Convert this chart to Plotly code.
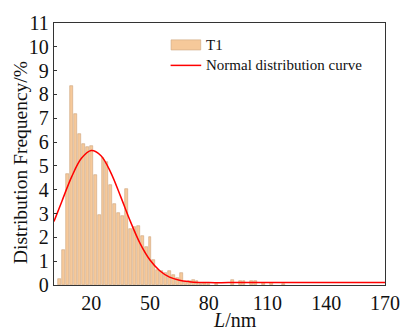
import plotly.graph_objects as go

# ---- data ----
bin_centers = [4, 6, 8, 10, 12, 14, 16, 18, 20, 22, 24, 26, 28, 30, 32, 34, 36, 38,
               40, 42, 44, 46, 48, 50, 52, 54, 56, 58, 60, 62, 64, 66, 68, 70, 72,
               74, 76, 78, 80, 84, 92, 96, 98, 102, 104, 108, 112, 118]
frequency = [0.25, 1.47, 4.65, 8.34, 7.17, 6.34, 5.92, 5.78, 5.85, 4.62, 2.96, 5.35,
             5.16, 4.20, 3.38, 3.04, 2.91, 4.02, 2.34, 2.43, 2.48, 2.07, 1.59, 2.01,
             1.06, 0.64, 0.60, 0.50, 0.57, 0.44, 0.30, 0.50, 0.12, 0.15, 0.20, 0.15,
             0.05, 0.08, 0.04, 0.04, 0.23, 0.16, 0.16, 0.16, 0.16, 0.10, 0.10, 0.06]

curve_x = [1, 5, 10, 15, 20, 25, 30, 35, 40, 45, 50, 55, 60, 65, 70, 75, 80, 90,
           100, 120, 140, 170]
curve_y = [2.67, 3.51, 4.54, 5.32, 5.65, 5.43, 4.72, 3.72, 2.67, 1.74, 1.05, 0.60,
           0.33, 0.20, 0.14, 0.11, 0.10, 0.10, 0.10, 0.10, 0.10, 0.10]

x_ticks = [20, 50, 80, 110, 140, 170]
y_ticks = list(range(0, 12))

series_names = ["T1", "Normal distribution curve"]

# ---- styling ----
W, H = 412, 333
L, R, T, B = 54, 23, 13, 48
BAR_FILL = "rgb(246,201,154)"
BAR_EDGE = "rgb(205,165,125)"
FONT = "Liberation Serif, Times New Roman, serif"


def px(x):
    return (x - L) / (W - L - R)


def py(y):
    return (H - B - y) / (H - T - B)


fig = go.Figure()
fig.add_trace(go.Bar(
    x=bin_centers, y=frequency, width=1.5, name=series_names[0],
    marker=dict(color=BAR_FILL, line=dict(color=BAR_EDGE, width=0.6)),
    showlegend=False,
))
fig.add_trace(go.Scatter(
    x=curve_x, y=curve_y, mode="lines", line=dict(color="#ff0000", width=1.5, shape="spline"),
    name=series_names[1], showlegend=False,
))

axis_common = dict(
    showgrid=False, zeroline=False, showline=True, linecolor="#333333", linewidth=1.3,
    mirror=True, tickfont=dict(family=FONT, size=20, color="#111111"),
)
fig.update_xaxes(range=[1, 170], tickvals=x_ticks, ticks="", **axis_common)
fig.update_yaxes(range=[0, 11], tickvals=y_ticks, ticks="inside", ticklen=3,
                 tickcolor="#333333", tickwidth=1.2, **axis_common)

# custom legend
fig.add_shape(type="rect", xref="paper", yref="paper",
              x0=px(172.5), x1=px(202.5), y0=py(41), y1=py(30.5),
              fillcolor=BAR_FILL, line=dict(color=BAR_EDGE, width=0.6))
fig.add_shape(type="line", xref="paper", yref="paper",
              x0=px(172), x1=px(203), y0=py(57), y1=py(57),
              line=dict(color="#ff0000", width=1.5))
fig.add_annotation(text=series_names[0], xref="paper", yref="paper", x=px(206), y=py(36),
                   xanchor="left", yanchor="middle", showarrow=False,
                   font=dict(family=FONT, size=15, color="#111111"))
fig.add_annotation(text=series_names[1], xref="paper", yref="paper", x=px(206), y=py(56.5),
                   xanchor="left", yanchor="middle", showarrow=False,
                   font=dict(family=FONT, size=15, color="#111111"))

# axis titles
fig.add_annotation(text="<i>L</i>/nm", xref="paper", yref="paper", x=px(237), y=py(321),
                   xanchor="center", yanchor="middle", showarrow=False,
                   font=dict(family=FONT, size=20, color="#111111"))
fig.add_annotation(text="Distribution Frequency/%", xref="paper", yref="paper",
                   x=px(20), y=py(158), textangle=-90,
                   xanchor="center", yanchor="middle", showarrow=False,
                   font=dict(family=FONT, size=19.5, color="#111111"))

fig.update_layout(
    width=W, height=H, margin=dict(l=L, r=R, t=T, b=B),
    paper_bgcolor="white", plot_bgcolor="white", bargap=0,
)

fig.write_html("out.html", config={"displayModeBar": False},
               post_script="document.body.style.margin='0';document.body.style.overflow='hidden';")
